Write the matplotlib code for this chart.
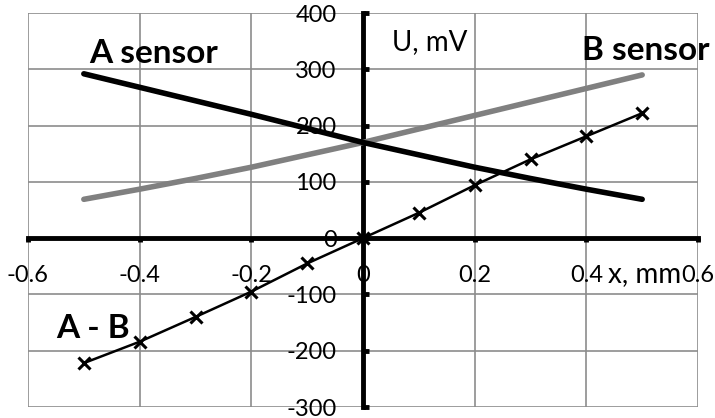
import numpy as np
import matplotlib.pyplot as plt

# Positions along x, mm
x = [-0.5, -0.4, -0.3, -0.2, -0.1, 0.0, 0.1, 0.2, 0.3, 0.4, 0.5]

# Sensor voltages, mV
sensor_a = [292, 268, 244, 220, 195, 170, 148, 126, 106, 87, 69]
sensor_b = [69, 87, 106, 126, 148, 170, 194, 218, 242, 266, 290]

# Difference signal
diff_ab = [-222, -184, -140, -95, -45, 0, 45, 94, 140, 181, 222]

x_ticks = [-0.6, -0.4, -0.2, 0, 0.2, 0.4, 0.6]
x_tick_labels = ['-0.6', '-0.4', '-0.2', '0', '0.2', '0.4', '0.6']
y_ticks = [-300, -200, -100, 0, 100, 200, 300, 400]

plt.rcParams['font.family'] = ['Lato', 'DejaVu Sans']
plt.rcParams['axes.unicode_minus'] = False

fig = plt.figure(figsize=(7.15, 4.18), dpi=100)
ax = fig.add_axes([28 / 715, 11 / 418, 670 / 715, 394 / 418])

ax.set_xlim(-0.6, 0.6)
ax.set_ylim(-300, 400)

# axes crossing at the origin
ax.spines['left'].set_position(('data', 0))
ax.spines['bottom'].set_position(('data', 0))
ax.spines['right'].set_visible(False)
ax.spines['top'].set_visible(False)
for s in ['left', 'bottom']:
    ax.spines[s].set_linewidth(3.5)
    ax.spines[s].set_zorder(3)

ax.set_xticks(x_ticks)
ax.set_xticklabels(x_tick_labels)
ax.set_yticks(y_ticks)
ax.tick_params(axis='x', direction='out', length=3, width=3.5, labelsize=17, pad=16)
ax.tick_params(axis='y', direction='in', length=4, width=3.5, labelsize=17, pad=19)

ax.grid(True, color='#8c8c8c', linewidth=1.2)
ax.set_axisbelow(True)

ax.plot(x, sensor_b, color='#808080', linewidth=4, solid_capstyle='round', zorder=4)
ax.plot(x, sensor_a, color='black', linewidth=4, solid_capstyle='round', zorder=4)
ax.plot(x, diff_ab, color='black', linewidth=1.8, marker='x', markersize=9,
        markeredgewidth=2.2, zorder=5)

ax.text(-0.49, 312, 'A sensor', fontsize=24, fontweight='bold', va='baseline')
ax.text(0.392, 316, 'B sensor', fontsize=24, fontweight='bold', va='baseline')
ax.text(-0.55, -177, 'A - B', fontsize=24, fontweight='bold', va='baseline')
ax.text(0.052, 334, 'U, mV', fontsize=20, va='baseline')
ax.text(0.439, -78, 'x, mm', fontsize=20, va='baseline')

plt.savefig('out.png', dpi=100)
